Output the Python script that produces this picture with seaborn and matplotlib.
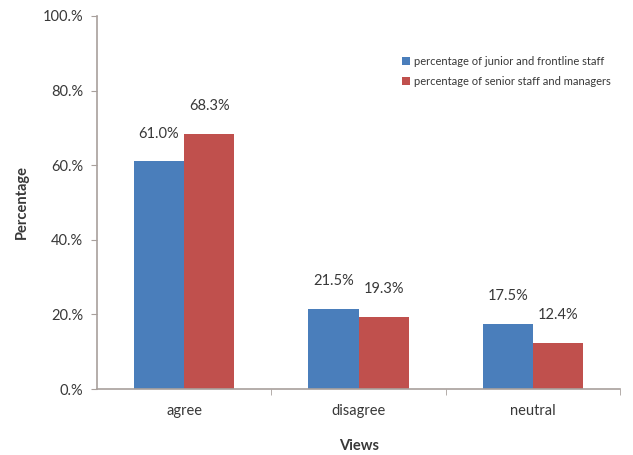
import matplotlib
matplotlib.use("Agg")
import matplotlib.pyplot as plt
import seaborn as sns
import pandas as pd
from matplotlib.ticker import FixedLocator

views = ["agree", "disagree", "neutral"]
junior = [61.0, 21.5, 17.5]
senior = [68.3, 19.3, 12.4]
series_names = ["percentage of junior and frontline staff",
                "percentage of senior staff and managers"]
y_ticks = [0, 20, 40, 60, 80, 100]
y_tick_labels = ["0.%", "20.%", "40.%", "60.%", "80.%", "100.%"]

df = pd.DataFrame({
    "Views": views * 2,
    "value": junior + senior,
    "series": [series_names[0]] * 3 + [series_names[1]] * 3,
})

sns.set_style("white")
plt.rcParams["font.family"] = ["Lato", "DejaVu Sans"]

text_col = "#383838"
axis_col = "#a8a09c"

fig = plt.figure(figsize=(6.33, 4.55), dpi=100)
ax = fig.add_axes([0.153, 0.145, 0.827, 0.820])

sns.barplot(data=df, x="Views", y="value", hue="series", ax=ax,
            palette=["#4a7ebb", "#c0504d"], width=0.575, saturation=1,
            edgecolor="none", legend=True)

# value labels above each bar
for cont in ax.containers:
    for bar in cont:
        h = bar.get_height()
        ax.annotate(f"{h:.1f}%", (bar.get_x() + bar.get_width() / 2, h),
                    xytext=(0, 15), textcoords="offset points",
                    ha="center", va="bottom", fontsize=10.5, color=text_col)

ax.set_ylim(0, 100)
ax.set_xlim(-0.5, 2.5)
ax.set_yticks(y_ticks)
ax.set_yticklabels(y_tick_labels)
ax.tick_params(axis="y", length=4, color=axis_col, labelsize=10.5,
               labelcolor=text_col, left=True, pad=6)
ax.tick_params(axis="x", which="major", length=0, labelsize=10.5,
               labelcolor=text_col, pad=11)
ax.xaxis.set_minor_locator(FixedLocator([0.5, 1.5, 2.5]))
ax.tick_params(axis="x", which="minor", length=4, color=axis_col,
               bottom=True)

for side in ["top", "right"]:
    ax.spines[side].set_visible(False)
for side in ["left", "bottom"]:
    ax.spines[side].set_color(axis_col)
    ax.spines[side].set_linewidth(1.2)

ax.set_xlabel("Views", fontsize=10.5, fontweight="bold", color=text_col,
              labelpad=15)
ax.set_ylabel("Percentage", fontsize=10.5, fontweight="bold", color=text_col,
              labelpad=10)

leg = ax.legend(loc="upper right", bbox_to_anchor=(1.0, 0.92), frameon=False,
                fontsize=8, handlelength=0.7, handleheight=0.7,
                handletextpad=0.3, labelspacing=0.85)
for t in leg.get_texts():
    t.set_color(text_col)

fig.savefig("out.png", dpi=100, facecolor="white")
